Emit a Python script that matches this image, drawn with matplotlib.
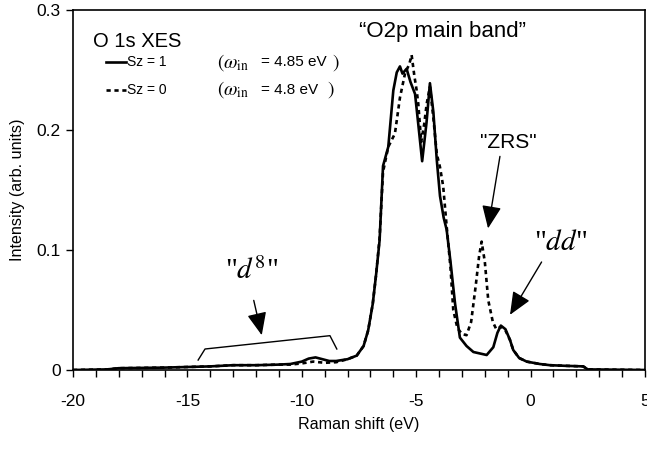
import matplotlib
matplotlib.use("Agg")
import matplotlib.pyplot as plt
import numpy as np

plt.rcParams['font.family'] = ['Liberation Sans', 'DejaVu Sans']
plt.rcParams['mathtext.fontset'] = 'stix'
plt.rcParams['axes.unicode_minus'] = False

# Sz = 1 (solid)
x_sz1 = [-20, -18.5, -18, -16, -14, -13, -12, -11, -10.5, -10, -9.7, -9.4, -9.1, -8.8, -8.5,
         -8.0, -7.6, -7.3, -7.1, -6.9, -6.75, -6.6, -6.45, -6.22, -6.0, -5.85, -5.71, -5.6,
         -5.42, -5.25, -5.05, -4.91, -4.74, -4.55, -4.4, -4.25, -4.1, -3.96, -3.8, -3.67,
         -3.5, -3.3, -3.09, -2.8, -2.5, -1.92, -1.63, -1.45, -1.3, -1.1, -0.9, -0.76, -0.5,
         -0.17, 0.4, 0.85, 1.5, 2.3, 2.5, 5]
y_sz1 = [0, 0.0005, 0.0015, 0.002, 0.003, 0.004, 0.004, 0.0045, 0.005, 0.007, 0.0095, 0.0105,
         0.009, 0.0075, 0.0075, 0.009, 0.012, 0.02, 0.033, 0.055, 0.08, 0.108, 0.17, 0.186,
         0.233, 0.248, 0.253, 0.247, 0.251, 0.24, 0.23, 0.205, 0.174, 0.206, 0.239, 0.215,
         0.175, 0.145, 0.127, 0.117, 0.09, 0.055, 0.027, 0.02, 0.015, 0.0125, 0.019, 0.031,
         0.037, 0.034, 0.025, 0.0167, 0.01, 0.007, 0.005, 0.004, 0.0035, 0.003, 0.0005, 0]

# Sz = 0 (dashed)
x_sz0 = [-20, -18.5, -18, -16, -14, -13, -12, -11, -10.5, -10, -9.5, -9.0, -8.5, -8.0, -7.6,
         -7.3, -7.1, -6.9, -6.75, -6.6, -6.45, -6.22, -5.93, -5.71, -5.49, -5.3, -5.2, -5.08,
         -4.98, -4.91, -4.78, -4.65, -4.54, -4.4, -4.25, -4.1, -3.96, -3.82, -3.67, -3.5,
         -3.38, -3.2, -3.0, -2.8, -2.6, -2.4, -2.25, -2.14, -2.0, -1.85, -1.65, -1.5, -1.3,
         -1.1, -0.9, -0.76, -0.5, -0.17, 0.4, 0.85, 1.5, 2.3, 2.5, 5]
y_sz0 = [0, 0.0005, 0.0015, 0.002, 0.003, 0.004, 0.004, 0.0045, 0.0045, 0.0055, 0.007, 0.006,
         0.0065, 0.009, 0.012, 0.02, 0.033, 0.055, 0.08, 0.11, 0.165, 0.186, 0.197, 0.227,
         0.247, 0.255, 0.2625, 0.245, 0.233, 0.222, 0.19, 0.205, 0.222, 0.236, 0.21, 0.18,
         0.169, 0.153, 0.12, 0.085, 0.05, 0.035, 0.03, 0.029, 0.04, 0.07, 0.095, 0.107, 0.09,
         0.058, 0.04, 0.034, 0.036, 0.033, 0.025, 0.0167, 0.01, 0.007, 0.005, 0.004, 0.0035,
         0.003, 0.0005, 0]

x_ticks = [-20, -15, -10, -5, 0, 5]
y_ticks = [0, 0.1, 0.2, 0.3]
y_ticklabels = ['0', '0.1', '0.2', '0.3']

fig = plt.figure(figsize=(6.47, 4.51), dpi=100)
ax = fig.add_axes([73/647, 81/451, 572/647, 360/451])

ax.plot(x_sz1, y_sz1, color='black', lw=1.9, solid_joinstyle='round')
ax.plot(x_sz0, y_sz0, color='black', lw=1.9, linestyle=(0, (1.6, 1.4)))

ax.set_xlim(-20, 5)
ax.set_ylim(0, 0.3)
ax.set_xticks(x_ticks)
ax.set_xticks(np.arange(-20, 6, 1), minor=True)
ax.set_yticks(y_ticks)
ax.set_yticklabels(y_ticklabels)
ax.tick_params(axis='both', direction='out', labelsize=12.5, width=1, length=5)
ax.tick_params(axis='x', which='minor', direction='out', length=5, width=1)
ax.tick_params(axis='x', pad=12)
ax.tick_params(axis='y', pad=4)
for s in ax.spines.values():
    s.set_linewidth(1.2)

ax.set_xlabel('Raman shift (eV)', fontsize=11.6, labelpad=6)
ax.set_ylabel('Intensity (arb. units)', fontsize=11.6, labelpad=8)

serif = ['Liberation Serif', 'DejaVu Serif']

# legend block
ax.text(-19.13, 0.274, 'O 1s XES', fontsize=14.5, va='center', ha='left')
ax.plot([-18.55, -17.7], [0.2565, 0.2565], color='black', lw=1.9)
ax.plot([-18.55, -17.7], [0.2335, 0.2335], color='black', lw=1.9, linestyle=(0, (1.6, 1.4)))
ax.text(-17.62, 0.2565, 'Sz = 1', fontsize=10, va='center', ha='left')
ax.text(-17.62, 0.2335, 'Sz = 0', fontsize=10, va='center', ha='left')
for yy, val, xr in [(0.2565, '= 4.85 eV', -8.68), (0.2335, '= 4.8 eV', -8.9)]:
    ax.text(-13.71, yy, r'$(\omega_{\mathrm{in}}$', fontsize=14, va='center', ha='left')
    ax.text(-11.8, yy, val, fontsize=11, va='center', ha='left')
    ax.text(xr, yy, r'$)$', fontsize=14, va='center', ha='left')

ax.text(-3.87, 0.282, '\u201cO2p main band\u201d', fontsize=16, ha='center', va='center')
ax.text(-0.99, 0.19, '"ZRS"', fontsize=15.1, ha='center', va='center')

ax.text(1.3, 0.106, r'"$dd$"', fontsize=21, ha='center', va='center', family=serif)
ax.text(-12.2, 0.082, r'"$d^{8}$"', fontsize=21, ha='center', va='center', family=serif)

arrow = dict(arrowstyle='-|>,head_length=0.7,head_width=0.3', color='black', lw=1,
             shrinkA=0, shrinkB=0, mutation_scale=20)
ax.annotate('', xy=(-1.86, 0.118), xytext=(-1.34, 0.178), arrowprops=arrow)
ax.annotate('', xy=(-0.9, 0.046), xytext=(0.48, 0.090), arrowprops=arrow)
ax.annotate('', xy=(-11.75, 0.029), xytext=(-12.1, 0.058), arrowprops=arrow)

# bracket for d8
bx = [-14.53, -14.23, -8.77, -8.47]
by = [0.0083, 0.0175, 0.0286, 0.0175]
ax.plot(bx, by, color='black', lw=1)

fig.savefig('out.png', dpi=100)
